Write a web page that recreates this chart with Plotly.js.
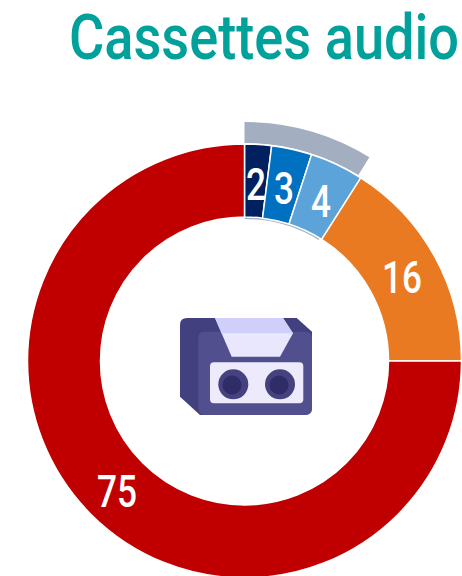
<!DOCTYPE html>
<html><head><meta charset="utf-8">
<script src="https://cdn.plot.ly/plotly-3.0.1.min.js"></script>
<style>html,body{margin:0;padding:0;background:#fff;overflow:hidden;width:462px;height:576px}#c{width:520px;height:640px}
.gtitle,.annotation-text{transform-box:fill-box;transform-origin:center}
.gtitle{transform:scaleX(.86)}
.annotation-text{transform:scaleX(.8)}
</style>
</head><body><div id="c"></div>
<script>
var categories=["a","b","c","d","e"];
var values=[2,3,4,16,75];
var colors=["#002060","#0070c0","#5ba3d9","#e97a22","#c00000"];
var bracketValues=[8.75,91.25];
var W=520,H=640,cx=244.500,cy=361,labelR=180;
function dom(r){return {x:[(cx-r)/W,(cx+r)/W],y:[1-(cy+r)/H,1-(cy-r)/H]};}
var icon='<svg xmlns="http://www.w3.org/2000/svg" viewBox="0 0 132 97">'+
'<path d="M7 0H116.700L132 13.700V90Q132 97 125 97H20L0 78.700V7Q0 0 7 0Z" fill="#42407f"/>'+
'<path d="M25 13.700H125Q132 13.700 132 20V90Q132 97 125 97H25Q18.300 97 18.300 90V20Q18.300 13.700 25 13.700Z" fill="#524f8e"/>'+
'<path d="M35 0H103L113 15.300L100 38.700H51.700Z" fill="#e9e7fd"/><path d="M35 0H103L113 15.300H41.600Z" fill="#cfcffa"/>'+
'<rect x="30" y="44.300" width="93.300" height="41" rx="4" fill="#eceafb"/>'+
'<circle cx="53.300" cy="66.300" r="15" fill="#45427f"/><circle cx="52" cy="67" r="9.500" fill="#2f2c68"/>'+
'<circle cx="100" cy="66.300" r="15" fill="#45427f"/><circle cx="99" cy="67" r="9.500" fill="#2f2c68"/></svg>';
var data=[
{type:"pie",values:bracketValues,domain:dom(239),hole:218/239,sort:false,direction:"clockwise",rotation:0,
 marker:{colors:["#a3afc0","rgba(0,0,0,0)"],line:{width:0}},textinfo:"none",hoverinfo:"skip",showlegend:false},
{type:"pie",values:bracketValues,domain:dom(146),hole:142/146,sort:false,direction:"clockwise",rotation:0,
 marker:{colors:["#a3afc0","rgba(0,0,0,0)"],line:{width:0}},textinfo:"none",hoverinfo:"skip",showlegend:false},
{type:"pie",labels:categories,values:values,domain:dom(217),hole:144/217,sort:false,direction:"clockwise",rotation:0,
 marker:{colors:colors,line:{color:"#fff",width:1.5}},textinfo:"none",showlegend:false}
];
var total=values.reduce(function(a,b){return a+b;},0),cum=0;
var annotations=values.map(function(v){
  var a=(cum+v/2)/total*2*Math.PI;cum+=v;
  return {text:String(v),showarrow:false,xref:"paper",yref:"paper",
    x:(cx+labelR*Math.sin(a))/W,y:1-(cy-labelR*Math.cos(a)+3.5)/H,xanchor:"center",yanchor:"middle",
    font:{family:"Roboto",size:44,color:"#fff",weight:500}};
});
var layout={width:W,height:H,margin:{l:0,r:0,t:0,b:0},paper_bgcolor:"#fff",showlegend:false,annotations:annotations,
 title:{text:"Cassettes audio",font:{family:"Roboto",size:63,color:"#00a19b",weight:500},x:264/W,xanchor:"center",y:1-37/H,yanchor:"middle"},
 images:[{source:"data:image/svg+xml;utf8,"+encodeURIComponent(icon),xref:"paper",yref:"paper",x:180/W,y:1-318/H,sizex:132/W,sizey:97/H,xanchor:"left",yanchor:"top",sizing:"stretch",layer:"above"}]};
Plotly.newPlot("c",data,layout,{displayModeBar:false,staticPlot:true});
</script></body></html>
